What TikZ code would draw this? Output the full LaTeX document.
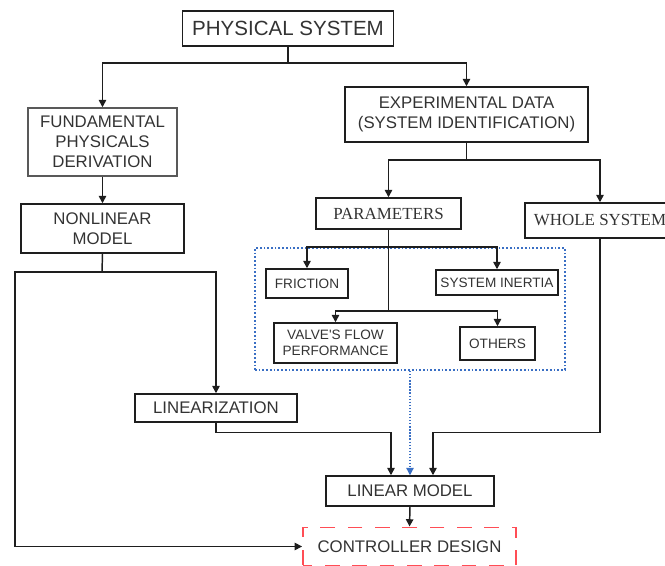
\documentclass[tikz,border=0pt]{standalone}
\usepackage{fontspec}
\newfontfamily\arialfont{Liberation Sans}
\newfontfamily\timesfont{Liberation Serif}
\usetikzlibrary{arrows.meta,calc}

\definecolor{txtgray}{HTML}{333333}
\definecolor{linegray}{HTML}{1E1E1E}
\definecolor{dotblue}{HTML}{3A6FC4}
\definecolor{dashred}{HTML}{FF4D55}

\begin{document}
\begin{tikzpicture}[x=0.75pt,y=-0.75pt,
    sz/.style 2 args={minimum width=#1*0.75pt, minimum height=#2*0.75pt},
    box/.style={draw=linegray, line width=1.1pt, inner sep=0pt, align=center,
        text=txtgray, font=\arialfont\fontsize{12.6}{14.8}\selectfont},
    smallbox/.style={box, font=\arialfont\fontsize{10.2}{12}\selectfont},
    serifbox/.style={box, font=\timesfont\fontsize{12.7}{15}\selectfont},
    arr/.style={draw=linegray, line width=1.1pt, -{Triangle[length=5.5pt,width=5.5pt]}},
    wire/.style={draw=linegray, line width=1.1pt}]
    \useasboundingbox (0,0) rectangle (665,566);

    % top part
    \node[box, sz={211}{35},
          font=\arialfont\fontsize{15.4}{18}\selectfont] (phys) at (288,28.5) {PHYSICAL SYSTEM};
    \node[box, draw=black!65, sz={149}{68}] (fund) at (102.5,142)
        {FUNDAMENTAL\\PHYSICALS\\DERIVATION};
    \node[box, sz={243}{55}] (exp) at (466.5,114.5)
        {EXPERIMENTAL DATA\\(SYSTEM IDENTIFICATION)};
    \node[box, sz={163}{49}] (nonlin) at (102.5,228.5)
        {NONLINEAR\\MODEL};

    % system identification
    \node[serifbox, sz={145}{31}] (param) at (388.5,213.5) {PARAMETERS};
    \node[serifbox, sz={150}{35}] (whole) at (600,220.5) {WHOLE SYSTEM};
    \node[draw=dotblue, line width=1.5pt, dash pattern=on 1.3pt off 1.5pt,
          sz={310}{122}, inner sep=0pt] (grp) at (410,309) {};
    \node[smallbox, sz={82}{29}] (fric) at (307,283.5) {FRICTION};
    \node[smallbox, sz={122}{25}] (inert) at (497,282.5) {SYSTEM INERTIA};
    \node[smallbox, sz={123}{40}] (valve) at (335.5,343)
        {VALVE'S FLOW\\PERFORMANCE};
    \node[smallbox, sz={75}{33}] (others) at (497.5,343.5) {OTHERS};

    % bottom part
    \node[box, sz={162}{28}] (lin) at (216,408) {LINEARIZATION};
    \node[box, sz={168}{30}] (linmod) at (410,491) {LINEAR MODEL};
    \node[box, draw=dashred, line width=1.4pt, dash pattern=on 11pt off 9.5pt, dash phase=4pt,
          sz={213}{38}] (ctrl) at (409.5,546.5) {CONTROLLER DESIGN};

    \coordinate (s1) at (288,63);
    \coordinate (s2) at (102,272);
    \coordinate (s3) at (466.5,160);
    \coordinate (p1) at (388.5,247);
    \coordinate (p2) at (388.5,311);
    \coordinate (l1) at (15,272);

    \draw[wire] (phys.south) -- (s1);
    \draw[arr] (s1) -| (fund.north);
    \draw[arr] (s1) -| (exp.north);
    \draw[arr] (fund.south) -- (nonlin.north);

    \draw[wire] (exp.south) -- (s3);
    \draw[arr] (s3) -| (param.north);
    \draw[arr] (s3) -| (whole.north);

    \draw[wire] (param.south) -- (p2);
    \draw[arr] (p1) -| (fric.north);
    \draw[arr] (p1) -| (inert.north);
    \draw[arr] (p2) -| (valve.north);
    \draw[arr] (p2) -| (others.north);

    \draw[wire] (nonlin.south) -- (s2);
    \draw[arr] (s2) -| (lin.north);
    \draw[arr] (s2) -- (l1) |- (ctrl.west);

    \draw[arr] (lin.south) -- ++(0,10) -| ($(linmod.north)+(-19,0)$);
    \draw[arr] (whole.south) -- ++(0,194) -| ($(linmod.north)+(23,0)$);
    \draw[draw=dotblue, line width=0.9pt, dash pattern=on 1pt off 1.3pt,
          -{Triangle[length=5.5pt,width=5.5pt]}] (grp.south) -- (linmod.north);
    \draw[arr] (linmod.south) -- (ctrl.north);
\end{tikzpicture}
\end{document}
